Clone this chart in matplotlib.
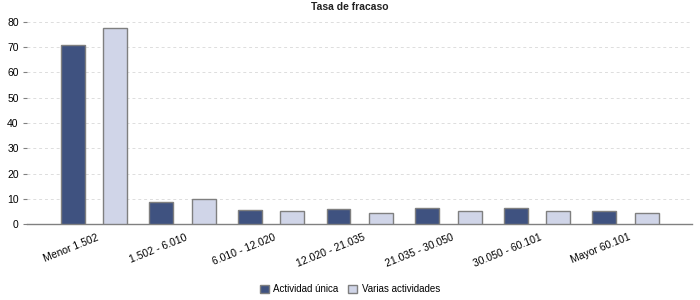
import numpy as np
import matplotlib
matplotlib.use('Agg')
import matplotlib.pyplot as plt

categories = ['Menor 1.502', '1.502 - 6.010', '6.010 - 12.020', '12.020 - 21.035',
              '21.035 - 30.050', '30.050 - 60.101', 'Mayor 60.101']
actividad_unica = [70.9, 8.7, 5.5, 5.9, 6.3, 6.3, 5.2]
varias_actividades = [77.6, 9.9, 5.1, 4.4, 5.2, 5.2, 4.4]
yticks = [0, 10, 20, 30, 40, 50, 60, 70, 80]

plt.rcParams['font.family'] = ['Liberation Sans', 'DejaVu Sans']

fig = plt.figure(figsize=(7, 3), dpi=100)
ax = fig.add_axes([27 / 700, 1 - 224 / 300, 665 / 700, 202 / 300])

x = np.arange(len(categories))
w = 0.27
ax.bar(x - 0.24, actividad_unica, w, color='#3f5280', edgecolor='#7f7f7f',
       linewidth=1, label='Actividad única', zorder=3)
ax.bar(x + 0.24, varias_actividades, w, color='#d0d5e8', edgecolor='#7f7f7f',
       linewidth=1, label='Varias actividades', zorder=3)

ax.set_xlim(-0.756, 6.75)
ax.set_ylim(0, 80)
ax.set_yticks(yticks)
ax.set_xticks(x + 0.03)
ax.set_xticklabels(categories, rotation=22, ha='right', rotation_mode='anchor', fontsize=7.5)
ax.tick_params(axis='x', length=0, pad=6)
ax.tick_params(axis='y', length=3, width=0.8, color='#808080', labelsize=7.5, pad=3)
ax.yaxis.grid(True, linestyle=(0, (3, 3)), color='#dddddd', linewidth=0.7, zorder=0)

for s in ['top', 'right', 'left']:
    ax.spines[s].set_visible(False)
ax.spines['bottom'].set_color('#808080')
ax.spines['bottom'].set_linewidth(1)

fig.text(0.5, 1 - 7 / 300, 'Tasa de fracaso', ha='center', va='center',
         fontsize=7.5, fontweight='bold', color='#222222')

fig.legend(loc='center', bbox_to_anchor=(0.5, 1 - 289 / 300), ncol=2, frameon=False,
           fontsize=7, handlelength=0.9, handleheight=0.9, handletextpad=0.5,
           columnspacing=1.0, borderpad=0)

fig.savefig('out.png', dpi=100)
